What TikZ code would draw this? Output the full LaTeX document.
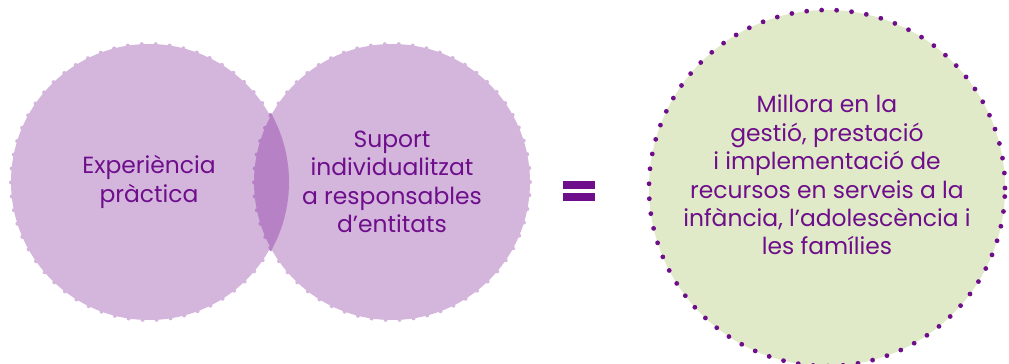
\documentclass[tikz,border=0pt]{standalone}
\usepackage{fontspec}
\setmainfont{Poppins}
\usepackage{tikz}
\usetikzlibrary{calc, positioning}
\usepackage{xcolor}
\definecolor{Lilac}{HTML}{D4B6DD}
\definecolor{LilacDark}{HTML}{B682C5}
\definecolor{Plum}{HTML}{6E0E8B}
\definecolor{Sage}{HTML}{E1EAC8}
\tikzset{%
  idea/.style={%
    circle,
    minimum size=276bp,
    inner sep=0pt,
    fill=Lilac,
    draw=Lilac,
    line width=4bp,
    line cap=round,
    dash pattern=on 0pt off 14bp,
    text=Plum,
    align=center,
    font={\fontsize{23.5}{28.5}\selectfont}%
  },
  outcome/.style={%
    circle,
    minimum size=356bp,
    inner sep=0pt,
    fill=Sage,
    draw=Plum,
    line width=4.8bp,
    line cap=round,
    dash pattern=on 0pt off 15bp%
  },
  annotate/.style={%
    text=Plum,
    align=center,
    font={\fontsize{23.5}{28.5}\selectfont}%
  },
  overlap/.style={%
    fill=LilacDark,
    draw=LilacDark,
    line width=4bp,
    line cap=round,
    dash pattern=on 0pt off 14bp%
  },
  bar/.style={fill=Plum}
}

\begin{document}
\begin{tikzpicture}[x=1bp, y=1bp]
    \useasboundingbox (0,0) rectangle (1009,363);
    \node [idea] (Practice) at (149,181) {Experiència\\pràctica};
    \node [idea, right=-37bp of Practice] (Support) {Suport\\individualitzat\\a responsables\\d’entitats};
    \node [outcome] (Result) at (827,175) {};
    \node [annotate] (ResultText) at ([yshift=13bp]Result.center) {Millora en la\\gestió, prestació\\i implementació de\\recursos en serveis a la\\infància, l’adolescència i\\les famílies};

    \begin{scope}
      \clip (Practice.center) circle (140);
      \filldraw [overlap] (Support.center) circle (138);
    \end{scope}
    \begin{scope}
      \clip (Support.center) circle (140);
      \draw [overlap, fill=none] (Practice.center) circle (138);
    \end{scope}

    \coordinate (Equals) at (579,176);
    \fill [bar] ($(Equals)+(-16,6)$) rectangle +(32,-8);
    \fill [bar] ($(Equals)+(-16,-6)$) rectangle +(32,-8);
\end{tikzpicture}
\end{document}
